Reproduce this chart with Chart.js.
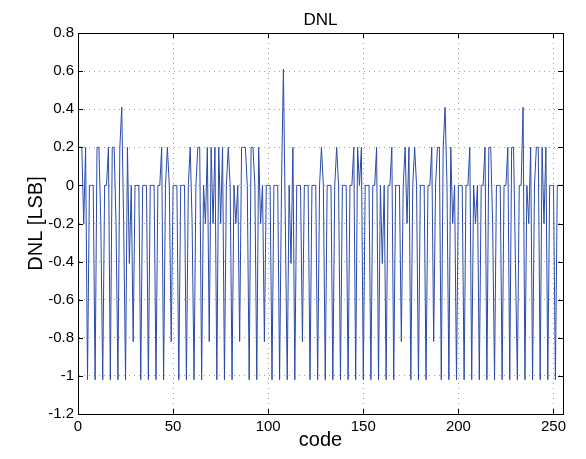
<!DOCTYPE html>
<html>
<head>
<meta charset="utf-8">
<script src="https://cdn.jsdelivr.net/npm/chart.js@4.4.1/dist/chart.umd.min.js"></script>
<style>
  html, body { margin: 0; padding: 0; background: #fff; }
  canvas { display: block; }
</style>
</head>
<body>
<canvas id="c" width="586" height="459"></canvas>
<script>
// ---- data ----
const titleText = "DNL";
const xLabel = "code";
const yLabel = "DNL [LSB]";
const xTicks = [0, 50, 100, 150, 200, 250];
const yTicks = [-1.2, -1, -0.8, -0.6, -0.4, -0.2, 0, 0.2, 0.4, 0.6, 0.8];
const dnl = [
  // 0-15
  0.2,0.2,0.2,-0.2,0.2,-1.02,0,0,0,-1.02,0.2,0.2,-0.2,-1.02,0,0,
  // 16-31
  0.2,-1.02,0.2,0.2,-0.2,-1.02,0.2,0.41,-0.2,-1.02,0.2,-0.41,0,-0.82,0,0,
  // 32-47
  0,-1.02,0,0,0,-1.02,0,0,0,-1.02,0,0,0.2,-1.02,0,0.2,
  // 48-63
  0,-0.82,0,0,0,-1.02,0,0,0,-1.02,0,0.2,-0.2,-1.02,0,0.2,
  // 64-79
  0.2,-1.02,0,-0.2,0.2,-0.82,0.2,-0.2,0.2,-1.02,0.2,-0.2,0.2,-1.02,0,0.2,
  // 80-95
  0,-1.02,0,-0.2,0,-0.82,0.2,0.2,0.2,0,-1.02,0.2,0.2,0,-1.02,0.2,
  // 96-111
  -0.2,0,-0.82,0,0,0,-1.02,0,0,0,-1.02,0,0.61,-0.2,-1.02,0,
  // 112-127
  -0.41,0.2,-1.02,0,0,0,-0.82,0,0,0,-1.02,0,0,0,-1.02,0,
  // 128-143
  0.2,0,-1.02,0,0,0,-1.02,0,0.2,0,-1.02,0,0,0,-1.02,0,
  // 144-159
  0,0.2,-1.02,0.2,0,0.2,-1.02,0,0,0,-1.02,0,0,0.2,-1.02,0,
  // 160-175
  -0.41,0,-1.02,0,0,0.2,-1.02,0,0,0,-0.82,0,0.2,-0.2,0.2,-1.02,
  // 176-191
  0,0.2,0,-1.02,0,0,0,-1.02,0,0,0.2,-0.82,0,0.2,0.2,-1.02,
  // 192-207
  0.2,0.41,0,-1.02,0.2,-0.2,0,-1.02,0,0,0,-1.02,0,0,0.2,-1.02,
  // 208-223
  0,-0.2,0,-1.02,0,0,0.2,-1.02,0.2,0.2,-0.2,-1.02,0,0,0,-1.02,
  // 224-239
  0,0,0.2,-1.02,0.2,0.2,-0.41,-1.02,0,0,0.41,-1.02,0,-0.2,0.2,-1.02,
  // 240-255
  0,0.2,0.2,-1.02,0.2,-0.2,0.2,-1.02,0,0,0,-1.02,0,0,0,0
];
const codes = dnl.map((_, i) => i);

const FONT = "'Liberation Sans', Arial, Helvetica, sans-serif";

// frame, inward ticks and title centred on the plot area (MATLAB style)
const matlabFrame = {
  id: 'matlabFrame',
  afterDraw(chart) {
    const ctx = chart.ctx;
    const a = chart.chartArea;
    const xs = chart.scales.x, ys = chart.scales.y;
    ctx.save();
    ctx.strokeStyle = '#000';
    ctx.lineWidth = 1;
    ctx.strokeRect(Math.round(a.left) + 0.5, Math.round(a.top) + 0.5,
                   Math.round(a.right - a.left), Math.round(a.bottom - a.top));
    const L = 5;
    ctx.beginPath();
    xs.ticks.forEach(t => {
      const px = Math.round(xs.getPixelForValue(t.value)) + 0.5;
      ctx.moveTo(px, a.bottom); ctx.lineTo(px, a.bottom - L);
      ctx.moveTo(px, a.top); ctx.lineTo(px, a.top + L);
    });
    ys.ticks.forEach(t => {
      const py = Math.round(ys.getPixelForValue(t.value)) + 0.5;
      ctx.moveTo(a.left, py); ctx.lineTo(a.left + L, py);
      ctx.moveTo(a.right, py); ctx.lineTo(a.right - L, py);
    });
    ctx.stroke();
    ctx.fillStyle = '#000';
    ctx.font = '17px ' + FONT;
    ctx.textAlign = 'center';
    ctx.textBaseline = 'middle';
    ctx.fillText(titleText, (a.left + a.right) / 2, 20);
    ctx.restore();
  }
};

new Chart(document.getElementById('c'), {
  type: 'line',
  data: {
    datasets: [{
      data: codes.map((c, i) => ({ x: c, y: dnl[i] })),
      borderColor: '#2a4aa8',
      borderWidth: 1,
      pointRadius: 0,
      tension: 0,
      fill: false
    }]
  },
  options: {
    responsive: false,
    animation: false,
    devicePixelRatio: 1,
    layout: { padding: { top: 33, right: 23, left: 0, bottom: 0 } },
    plugins: { legend: { display: false }, tooltip: { enabled: false }, title: { display: false } },
    scales: {
      x: {
        type: 'linear',
        min: 0, max: 255,
        afterBuildTicks: s => { s.ticks = xTicks.map(v => ({ value: v })); },
        afterFit: s => { s.height = 45; },
        ticks: { color: '#000', font: { size: 15, family: FONT }, padding: 4, maxRotation: 0,
                 callback: v => String(v) },
        grid: { color: '#a0a0a0', drawTicks: false, lineWidth: 1 },
        border: { display: true, color: '#000', dash: [1, 4] },
        title: { display: true, text: xLabel, color: '#000', font: { size: 20, family: FONT },
                 padding: { top: 0, bottom: 7 } }
      },
      y: {
        type: 'linear',
        min: -1.2, max: 0.8,
        afterBuildTicks: s => { s.ticks = yTicks.map(v => ({ value: v })); },
        afterFit: s => { s.width = 78; },
        ticks: { color: '#000', font: { size: 15, family: FONT }, padding: 4,
                 callback: v => String(Math.round(v * 10) / 10) },
        grid: { color: '#a0a0a0', drawTicks: false, lineWidth: 1 },
        border: { display: true, color: '#000', dash: [1, 4] },
        title: { display: true, text: yLabel, color: '#000', font: { size: 20, family: FONT },
                 padding: { top: 24, bottom: 0 } }
      }
    }
  },
  plugins: [matlabFrame]
});
</script>
</body>
</html>
